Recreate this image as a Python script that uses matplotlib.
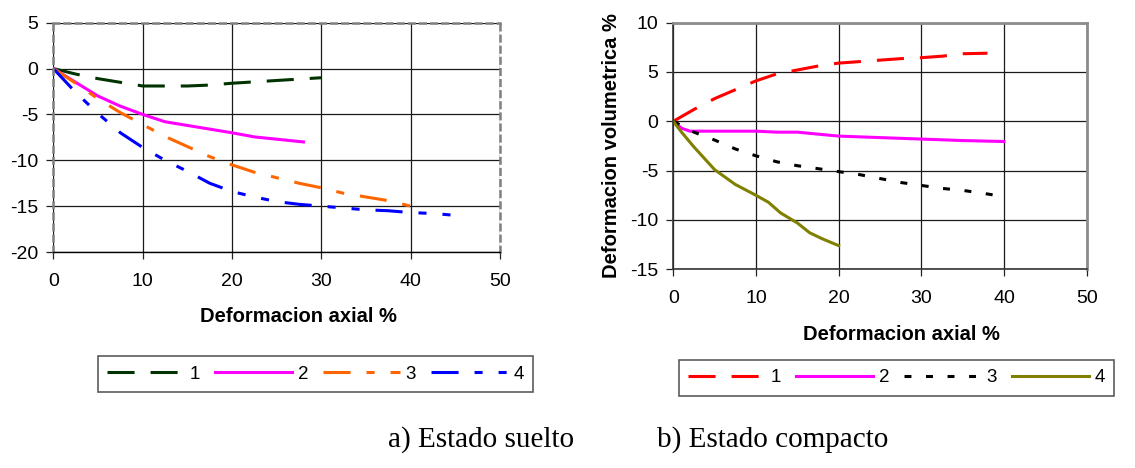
import matplotlib
matplotlib.use("Agg")
import matplotlib.pyplot as plt

plt.rcParams.update({
    'font.family': ['Liberation Sans', 'DejaVu Sans'],
    'lines.scale_dashes': False,
    'axes.unicode_minus': False,
})

# a) Estado suelto
loose_x1 = [0, 2.5, 5, 7.5, 10, 12.5, 15, 17.5, 20, 22.5, 25, 27.5, 30]
loose_y1 = [0, -0.6, -1.1, -1.5, -1.9, -1.9, -1.9, -1.8, -1.6, -1.45, -1.3, -1.15, -1.0]
loose_x2 = [0, 2.5, 5, 7.5, 10, 12.5, 15, 17.5, 20, 22.5, 25, 28]
loose_y2 = [0, -1.5, -3.0, -4.1, -5.0, -5.8, -6.2, -6.6, -7.0, -7.45, -7.7, -8.0]
loose_x3 = [0, 2.5, 5, 7.5, 10, 12.5, 15, 17.5, 20, 22.5, 25, 27.5, 30, 32.5, 35, 37.5, 40]
loose_y3 = [0, -1.6, -3.3, -4.8, -6.1, -7.4, -8.5, -9.6, -10.5, -11.3, -11.9, -12.5,
            -13.0, -13.6, -14.0, -14.4, -15.0]
loose_x4 = [0, 2.5, 5, 7.5, 10, 12.5, 15, 17.5, 20, 22.5, 25, 27.5, 30, 32.5, 35, 37.5,
            40, 42.5, 45]
loose_y4 = [0, -2.6, -4.9, -7.0, -8.6, -10.0, -11.2, -12.5, -13.4, -14.0, -14.5, -14.8,
            -15.0, -15.2, -15.4, -15.5, -15.7, -15.8, -16.0]

# b) Estado compacto
dense_x1 = [0, 2.5, 5, 7.5, 10, 12.5, 15, 17.5, 20, 22.5, 25, 27.5, 30, 32.5, 35, 38]
dense_y1 = [0, 1.2, 2.3, 3.2, 4.1, 4.8, 5.2, 5.6, 5.9, 6.05, 6.2, 6.35, 6.45, 6.6, 6.85, 6.9]
dense_x2 = [0, 1, 2, 5, 10, 12.5, 15, 20, 25, 30, 35, 40]
dense_y2 = [0, -0.7, -1.0, -1.0, -1.0, -1.1, -1.1, -1.5, -1.65, -1.8, -1.95, -2.05]
dense_x3 = [0, 2.5, 5, 7.5, 10, 12.5, 15, 17.5, 20, 22.5, 25, 27.5, 30, 32.5, 35, 37.5, 39]
dense_y3 = [0, -1.1, -1.9, -2.8, -3.5, -4.1, -4.5, -4.8, -5.1, -5.4, -5.8, -6.2, -6.5,
            -6.8, -7.0, -7.3, -7.5]
dense_x4 = [0, 1, 2.5, 5, 7.5, 10, 11.5, 13, 15, 16.5, 18, 20]
dense_y4 = [0, -1.1, -2.6, -4.9, -6.4, -7.5, -8.2, -9.3, -10.3, -11.3, -11.9, -12.6]

labels = ['1', '2', '3', '4']
xticks = [0, 10, 20, 30, 40, 50]

LONG = (0, (19.5, 11.5))
DASHDOT = (0, (19.5, 11.5, 5.8, 11.5))
DASHDOTDOT = (0, (19.5, 11.5, 5.8, 11.5, 5.8, 11.5))
DOTS = (0, (5, 10.5))
LW = 2.2
TICK_FS = 14

fig = plt.figure(figsize=(11.35, 4.68), dpi=100)
ax1 = fig.add_axes([0.047, 0.4615, 0.3935, 0.49])
ax2 = fig.add_axes([0.5932, 0.4246, 0.3642, 0.527])


def style_axes(ax, ylim, yticks):
    ax.set_xlim(0, 50)
    ax.set_ylim(*ylim)
    ax.set_xticks(xticks)
    ax.set_yticks(yticks)
    ax.grid(True, color='#1a1a1a', linewidth=0.9)
    ax.set_axisbelow(True)
    ax.tick_params(direction='out', length=5, width=0.9, labelsize=TICK_FS, colors='#222222',
                   labelcolor='black')
    ax.tick_params(axis='x', pad=10)
    ax.tick_params(axis='y', pad=6)


style_axes(ax1, (-20, 5), [-20, -15, -10, -5, 0, 5])
h1 = []
h1 += ax1.plot(loose_x1, loose_y1, color='#003300', lw=LW, linestyle=LONG, dash_capstyle='butt')
h1 += ax1.plot(loose_x2, loose_y2, color='#ff00ff', lw=LW)
h1 += ax1.plot(loose_x3, loose_y3, color='#ff6600', lw=LW, linestyle=DASHDOT, dash_capstyle='butt')
h1 += ax1.plot(loose_x4, loose_y4, color='#0000ff', lw=LW, linestyle=DASHDOTDOT, dash_capstyle='butt')
for side in ['top', 'right', 'left']:
    ax1.spines[side].set_color('#808080')
    ax1.spines[side].set_linestyle((0, (4, 4)))
    ax1.spines[side].set_linewidth(1.8)
ax1.spines['bottom'].set_color('black')
ax1.spines['bottom'].set_linewidth(1.0)

style_axes(ax2, (-15, 10), [-15, -10, -5, 0, 5, 10])
h2 = []
h2 += ax2.plot(dense_x1, dense_y1, color='#ff0000', lw=LW, linestyle=LONG, dash_capstyle='butt')
h2 += ax2.plot(dense_x2, dense_y2, color='#ff00ff', lw=LW)
h2 += ax2.plot(dense_x3, dense_y3, color='black', lw=LW, linestyle=DOTS, dash_capstyle='butt')
h2 += ax2.plot(dense_x4, dense_y4, color='#808000', lw=LW)
for side in ['top', 'right']:
    ax2.spines[side].set_color('#8c8c8c')
    ax2.spines[side].set_linewidth(2.0)
for side in ['left', 'bottom']:
    ax2.spines[side].set_color('#333333')
    ax2.spines[side].set_linewidth(1.2)

ax2.set_ylabel('Deformacion volumetrica %', fontsize=14.5, fontweight='bold', labelpad=6)

fig.text(298 / 1135, 1 - 317 / 468, 'Deformacion axial %', fontsize=14.5, fontweight='bold',
         ha='center', va='center')
fig.text(901 / 1135, 1 - 334 / 468, 'Deformacion axial %', fontsize=14.5, fontweight='bold',
         ha='center', va='center')

leg_kw = dict(ncol=4, loc='center', fontsize=13.5, frameon=True, fancybox=False,
              edgecolor='#333333', handlelength=4.1, handletextpad=0.3, columnspacing=0.8,
              borderpad=0.5, borderaxespad=0)
lg1 = fig.legend(h1, labels, bbox_to_anchor=(0.278, 0.2), **leg_kw)
lg2 = fig.legend(h2, labels, bbox_to_anchor=(0.790, 0.193), **leg_kw)
for lg in (lg1, lg2):
    lg.get_frame().set_linewidth(1.2)

fig.text(388 / 1135, 1 - 447 / 468, 'a) Estado suelto', fontsize=21,
         family=['Liberation Serif', 'DejaVu Serif'], ha='left', va='baseline')
fig.text(657 / 1135, 1 - 447 / 468, 'b) Estado compacto', fontsize=21,
         family=['Liberation Serif', 'DejaVu Serif'], ha='left', va='baseline')

fig.savefig('out.png', dpi=100)
